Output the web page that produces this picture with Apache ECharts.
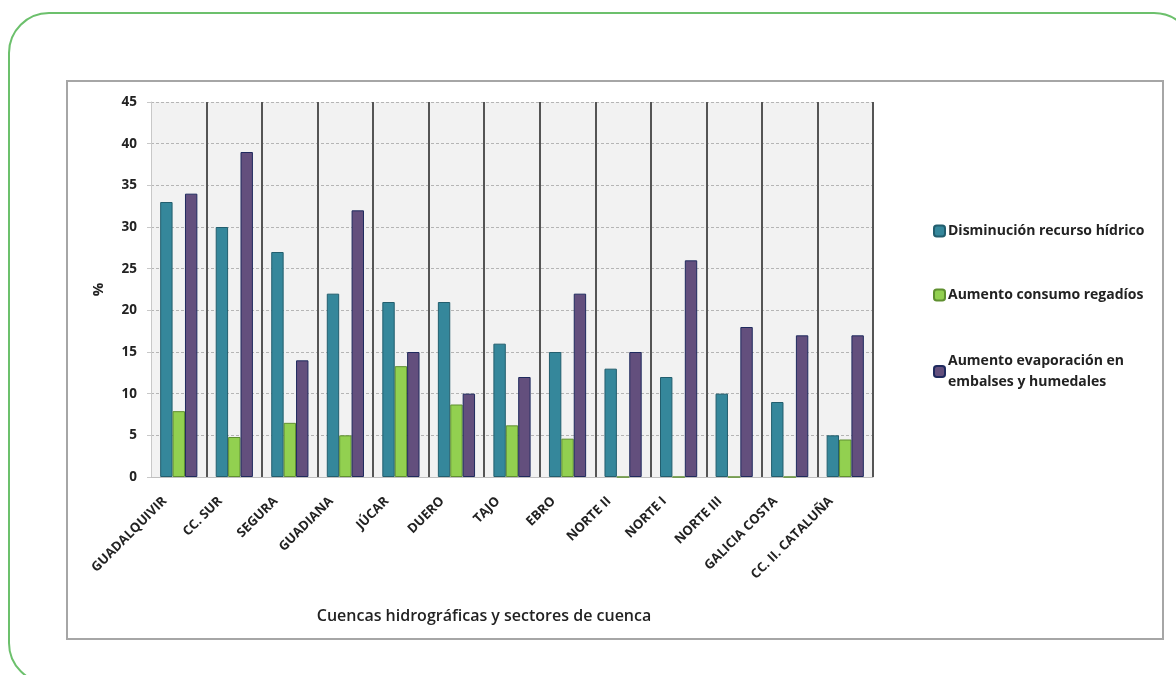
<!DOCTYPE html>
<html>
<head>
<meta charset="utf-8">
<script src="https://cdn.jsdelivr.net/npm/echarts@6/dist/echarts.min.js"></script>
<style>
  html, body { margin: 0; padding: 0; background: #fff; }
  #chart { width: 1176px; height: 675px; }
</style>
</head>
<body>
<div id="chart"></div>
<script>
// cuencas
const categories = [
  "GUADALQUIVIR", "CC. SUR", "SEGURA", "GUADIANA", "JÚCAR", "DUERO", "TAJO",
  "EBRO", "NORTE II", "NORTE I", "NORTE III", "GALICIA COSTA", "CC. II. CATALUÑA"
];
const recursoHidrico = [33, 30, 27, 22, 21, 21, 16, 15, 13, 12, 10, 9, 5];
const consumoRegadios = [7.9, 4.8, 6.5, 5, 13.3, 8.7, 6.2, 4.6, 0, 0, 0, 0, 4.5];
const evaporacion = [34, 39, 14, 32, 15, 10, 12, 22, 15, 26, 18, 17, 17];
const yTicks = { min: 0, max: 45, interval: 5 };

const seriesNames = [
  "Disminución recurso hídrico",
  "Aumento consumo regadíos",
  "Aumento evaporación en embalses y humedales"
];

const font = "'Open Sans', 'DejaVu Sans', sans-serif";
const txt = { fontFamily: font, fontWeight: 700, color: "#222" };

const chart = echarts.init(document.getElementById("chart"));

function legendAt(name, top, extra) {
  return {
    orient: "vertical",
    left: 928,
    top: top,
    itemWidth: 11,
    itemHeight: 11,
    itemGap: 0,
    data: [name],
    textStyle: Object.assign({ fontSize: 14, padding: [0, 0, 0, -2] }, txt, extra || {}),
    formatter: function (n) {
      return n === seriesNames[2] ? "Aumento evaporación en\nembalses y humedales" : n;
    }
  };
}

const option = {
  backgroundColor: "#fff",
  animation: false,
  graphic: [
    {
      type: "rect",
      shape: { x: 9, y: 13, width: 1185, height: 670, r: 40 },
      style: { fill: "none", stroke: "#6cc06c", lineWidth: 2 },
      z: -10
    },
    {
      type: "rect",
      shape: { x: 67, y: 81, width: 1096, height: 558 },
      style: { fill: "#fff", stroke: "#a6a6a6", lineWidth: 2 },
      z: -9
    }
  ],
  legend: [
    legendAt(seriesNames[0], 219),
    legendAt(seriesNames[1], 283),
    legendAt(seriesNames[2], 335, { lineHeight: 21, padding: [21, 0, 0, -2] })
  ],
  grid: {
    left: 151,
    right: 303,
    top: 102,
    bottom: 198,
    show: true,
    backgroundColor: "#f2f2f2",
    borderWidth: 0
  },
  xAxis: {
    type: "category",
    data: categories,
    name: "Cuencas hidrográficas y sectores de cuenca",
    nameLocation: "middle",
    nameGap: 131,
    nameTextStyle: { fontFamily: font, fontWeight: 600, fontSize: 16, color: "#222", padding: [0, 56, 0, 0] },
    axisLine: { lineStyle: { color: "#bfbfbf", width: 1 } },
    axisTick: { show: false },
    axisLabel: Object.assign({ rotate: 45, fontSize: 13, margin: 8, interval: 0, padding: [0, 20, 0, 0] }, txt),
    splitLine: {
      show: true,
      showMinLine: false,
      lineStyle: { color: "#555", width: 2 }
    }
  },
  yAxis: {
    type: "value",
    min: yTicks.min,
    max: yTicks.max,
    interval: yTicks.interval,
    name: "%",
    nameLocation: "middle",
    nameGap: 45,
    nameRotate: 90,
    nameTextStyle: { fontFamily: font, fontWeight: 700, fontSize: 15, color: "#222" },
    axisLine: { show: true, lineStyle: { color: "#c8c8c8", width: 1 } },
    axisTick: { show: true, length: 4, lineStyle: { color: "#c8c8c8" } },
    axisLabel: Object.assign({ fontSize: 13.5, margin: 14 }, txt),
    splitLine: { lineStyle: { color: "#b5b5b5", type: [3, 2], width: 1 } }
  },
  series: [
    {
      name: seriesNames[0],
      type: "bar",
      data: recursoHidrico,
      barWidth: 12.4,
      barGap: "0%",
      itemStyle: { color: "#35879b", borderColor: "#225e6e", borderWidth: 1 }
    },
    {
      name: seriesNames[1],
      type: "bar",
      data: consumoRegadios,
      barWidth: 12.4,
      barGap: "0%",
      itemStyle: { color: "#92d050", borderColor: "#5f8f30", borderWidth: 1 }
    },
    {
      name: seriesNames[2],
      type: "bar",
      data: evaporacion,
      barWidth: 12.4,
      barGap: "0%",
      itemStyle: { color: "#634f7d", borderColor: "#1f2a5e", borderWidth: 1 }
    }
  ]
};

chart.setOption(option);
</script>
</body>
</html>
